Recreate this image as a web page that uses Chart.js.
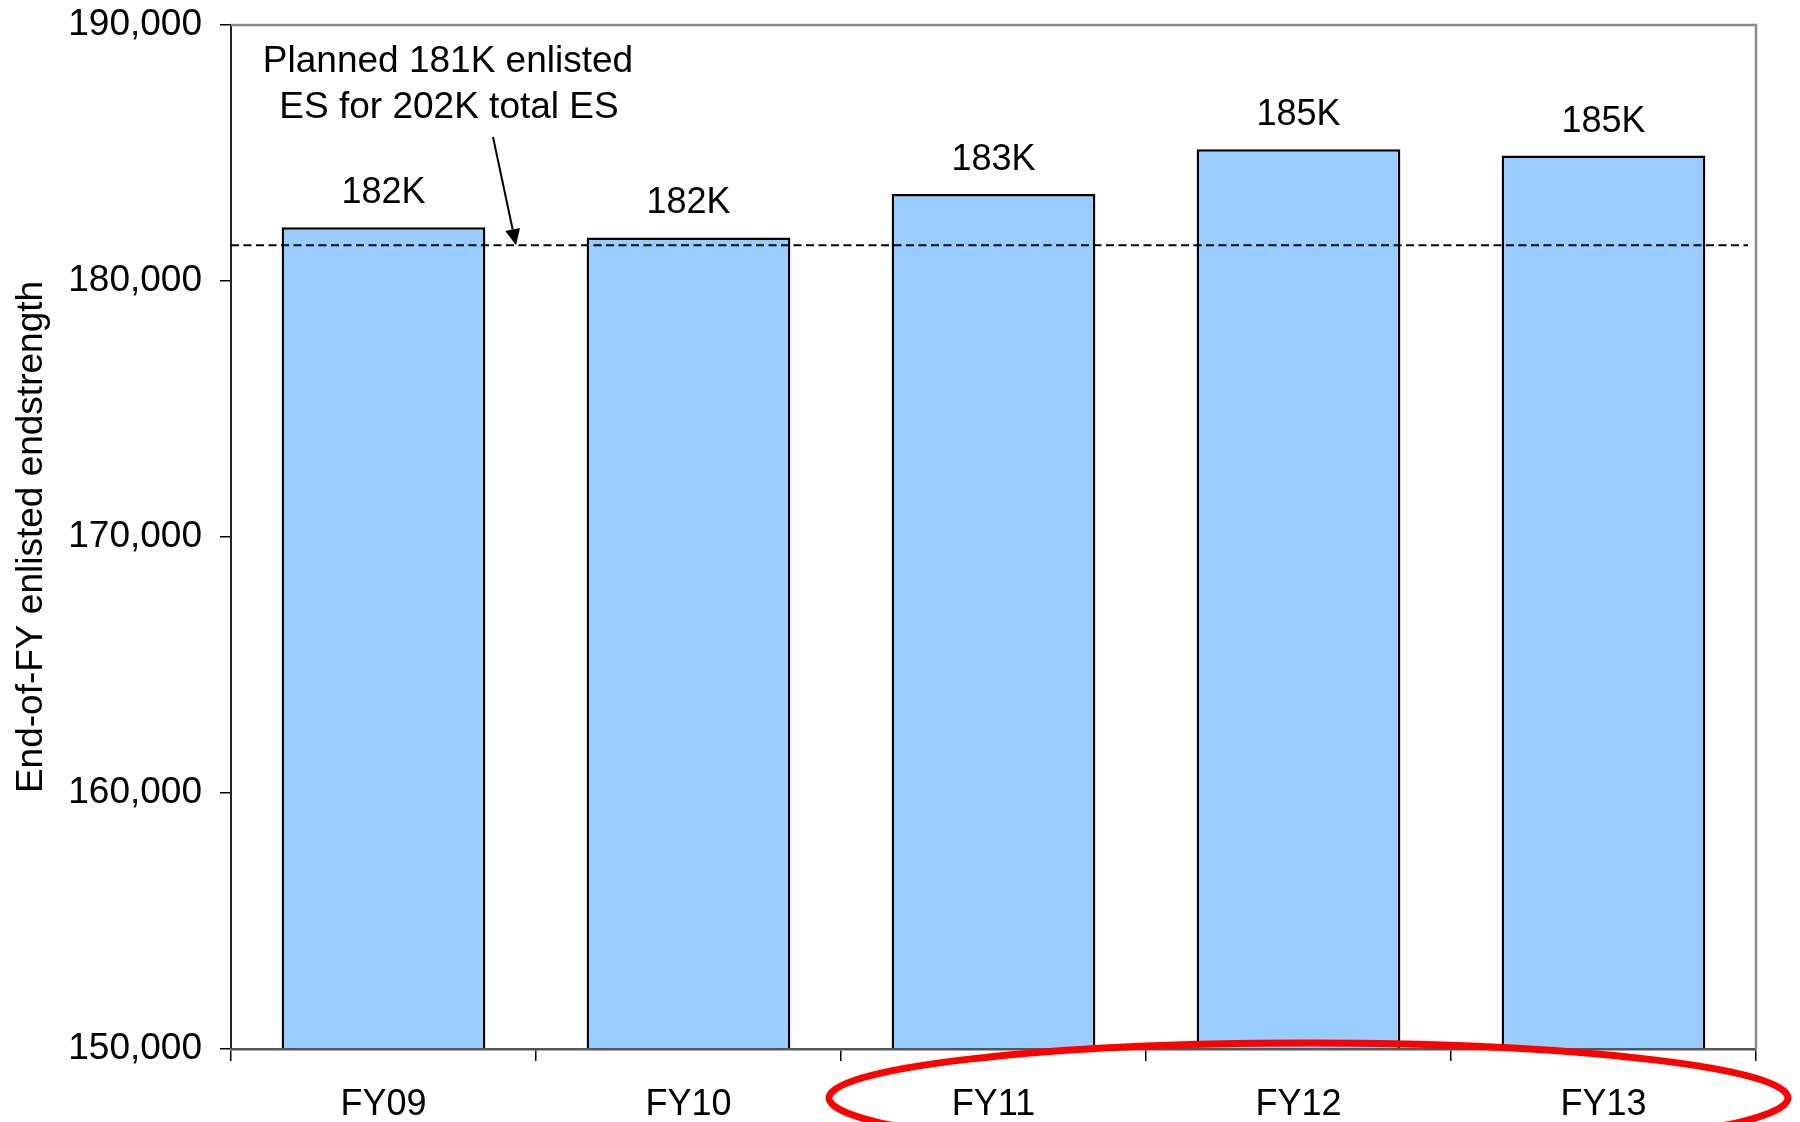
<!DOCTYPE html>
<html>
<head>
<meta charset="utf-8">
<script src="https://cdn.jsdelivr.net/npm/chart.js@4.4.1/dist/chart.umd.min.js"></script>
<style>
    html, body { margin: 0; padding: 0; background: #fff; }
    #wrap { width: 1800px; height: 1122px; }
</style>
</head>
<body>
<div id="wrap"><canvas id="esChart" width="1800" height="1122"></canvas></div>
<script>
// Fiscal years and end-of-year enlisted endstrength
const fiscalYears = ['FY09', 'FY10', 'FY11', 'FY12', 'FY13'];
const endStrength = [182100, 181700, 183400, 185150, 184900];

// Planned enlisted level (dashed reference line)
const plannedLevel = 181400;
const plannedNote = ['Planned 181K enlisted', 'ES for 202K total ES'];

// Y axis range
const yMin = 150000;
const yMax = 190000;
const yStep = 10000;

const FONT = '"Liberation Sans", Arial, sans-serif';

function fmtK(v) {
    return Math.round(v / 1000) + 'K';
}

// Keep label overflow from pushing the plot area around
function noOverflow(scale) {
    scale.paddingTop = 0;
    scale.paddingBottom = 0;
    scale.paddingLeft = 0;
    scale.paddingRight = 0;
}

/**
 * Extra drawing on top of the bars: plot frame, planned line,
 * value labels, the callout with its arrow, and the red highlight ring
 */
const overlayPlugin = {
    id: 'overlay',
    afterDraw(chart) {
        const { ctx, chartArea: a, scales: { x, y } } = chart;
        ctx.save();

        // Grey frame on top and right
        ctx.strokeStyle = '#8a8a8a';
        ctx.lineWidth = 2.5;
        ctx.beginPath();
        ctx.moveTo(a.left, a.top);
        ctx.lineTo(a.right, a.top);
        ctx.lineTo(a.right, a.bottom);
        ctx.stroke();

        // Planned level dashed line
        const py = y.getPixelForValue(plannedLevel);
        ctx.strokeStyle = '#000';
        ctx.lineWidth = 2;
        ctx.setLineDash([8, 4.5]);
        ctx.beginPath();
        ctx.moveTo(a.left, py);
        ctx.lineTo(a.right - 8, py);
        ctx.stroke();
        ctx.setLineDash([]);

        // Value labels above bars
        ctx.fillStyle = '#000';
        ctx.font = '36px ' + FONT;
        ctx.textAlign = 'center';
        ctx.textBaseline = 'alphabetic';
        const meta = chart.getDatasetMeta(0);
        meta.data.forEach((bar, i) => {
            ctx.fillText(fmtK(endStrength[i]), bar.x, bar.y - 24);
        });

        // Callout text
        ctx.font = '37px ' + FONT;
        ctx.fillText(plannedNote[0], 448, 72);
        ctx.fillText(plannedNote[1], 449, 118);

        // Arrow down to the planned line
        const sx = 493, sy = 137, tx = 516, ty = py;
        const ang = Math.atan2(ty - sy, tx - sx);
        const headLen = 16, headW = 7.5;
        const bx = tx - headLen * Math.cos(ang);
        const by = ty - headLen * Math.sin(ang);
        ctx.lineWidth = 2;
        ctx.beginPath();
        ctx.moveTo(sx, sy);
        ctx.lineTo(bx, by);
        ctx.stroke();
        ctx.beginPath();
        ctx.moveTo(tx, ty);
        ctx.lineTo(bx + headW * Math.sin(ang), by - headW * Math.cos(ang));
        ctx.lineTo(bx - headW * Math.sin(ang), by + headW * Math.cos(ang));
        ctx.closePath();
        ctx.fill();

        // Red ring around FY11-FY13
        const catW = x.getPixelForValue(1) - x.getPixelForValue(0);
        const left = x.getPixelForValue(2) - catW / 2 - 12;
        const right = x.getPixelForValue(4) + catW / 2 + 32;
        ctx.strokeStyle = '#ff0000';
        ctx.lineWidth = 7;
        ctx.beginPath();
        ctx.ellipse((left + right) / 2, a.bottom + 49, (right - left) / 2, 55, 0, 0, Math.PI * 2);
        ctx.stroke();

        ctx.restore();
    }
};

const ctx = document.getElementById('esChart').getContext('2d');
new Chart(ctx, {
    type: 'bar',
    data: {
        labels: fiscalYears,
        datasets: [{
            data: endStrength,
            backgroundColor: '#99ccff',
            borderColor: '#000',
            borderWidth: 2.5,
            borderSkipped: 'start',
            barPercentage: 0.668,
            categoryPercentage: 1
        }]
    },
    options: {
        responsive: false,
        animation: false,
        events: [],
        layout: { padding: { top: 25, right: 44, left: 0, bottom: 0 } },
        plugins: {
            legend: { display: false },
            tooltip: { enabled: false }
        },
        scales: {
            x: {
                afterFit(scale) { scale.height = 73; noOverflow(scale); },
                grid: {
                    offset: true,
                    drawOnChartArea: false,
                    drawTicks: true,
                    tickLength: 12,
                    color: '#000',
                    lineWidth: 1.5
                },
                border: { color: '#555', width: 2.5, z: 1 },
                ticks: {
                    color: '#000',
                    font: { family: FONT, size: 36 },
                    padding: 22,
                    maxRotation: 0
                }
            },
            y: {
                min: yMin,
                max: yMax,
                afterFit(scale) { scale.width = 231; noOverflow(scale); },
                grid: {
                    drawOnChartArea: false,
                    drawTicks: true,
                    tickLength: 11,
                    color: '#000',
                    lineWidth: 1.5
                },
                border: { color: '#222', width: 2 },
                ticks: {
                    stepSize: yStep,
                    color: '#000',
                    font: { family: FONT, size: 37 },
                    padding: 18,
                    callback: (v) => v.toLocaleString('en-US')
                },
                title: {
                    display: true,
                    text: 'End-of-FY enlisted endstrength',
                    color: '#000',
                    font: { family: FONT, size: 37 },
                    padding: { top: 10, bottom: 0 }
                }
            }
        }
    },
    plugins: [overlayPlugin]
});
</script>
</body>
</html>
